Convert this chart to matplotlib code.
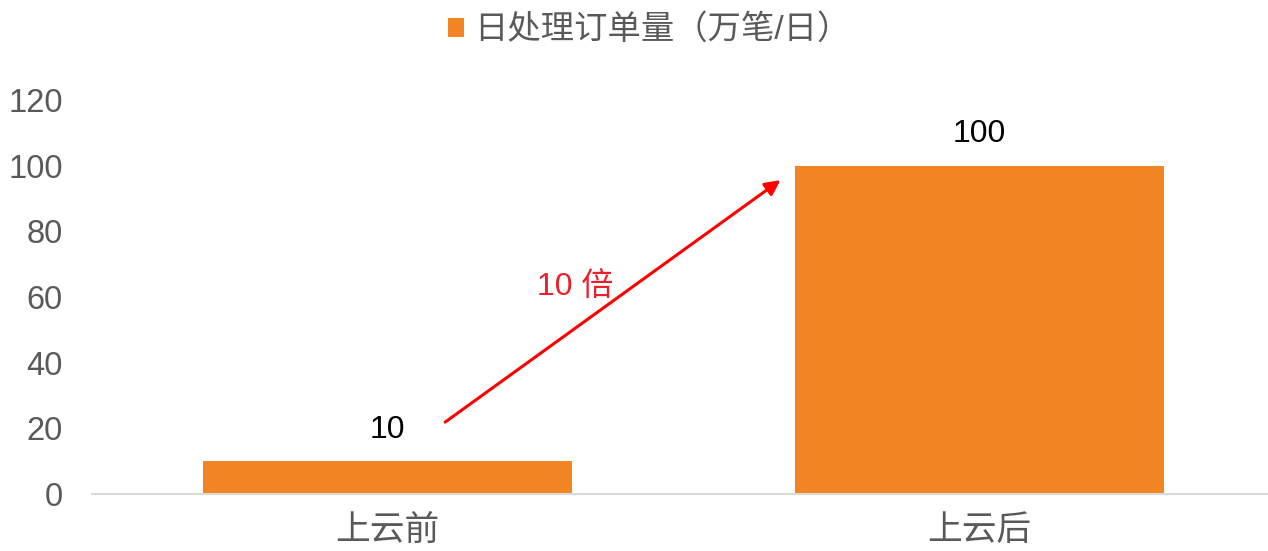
import matplotlib.pyplot as plt
from matplotlib.patches import Patch

plt.rcParams['font.family'] = ['Liberation Sans', 'Noto Sans CJK SC', 'DejaVu Sans']

categories = ['上云前', '上云后']
orders = [10, 100]
series_name = '日处理订单量（万笔/日）'
multiple_label = '10 倍'

BAR_COLOR = '#F28423'
GRAY = '#595959'

fig = plt.figure(figsize=(12.68, 5.51), dpi=100)
ax = fig.add_axes([0.0726, 0.1034, 0.9328, 0.7151])

x = list(range(len(categories)))
bars = ax.bar(x, orders, width=0.624, color=BAR_COLOR, zorder=2)

for xi, v in zip(x, orders):
    ax.text(xi, v + 5, str(v), ha='center', va='bottom', fontsize=23, color='black')

ax.set_xlim(-0.5, 1.5)
ax.set_ylim(0, 120)
ax.set_yticks(range(0, 121, 20))
ax.set_xticks(x)
ax.set_xticklabels(categories, fontsize=25, color=GRAY)
ax.tick_params(axis='y', labelsize=23.5, labelcolor=GRAY, length=0, pad=21)
ax.tick_params(axis='x', length=0, pad=14)

for s in ['top', 'right', 'left']:
    ax.spines[s].set_visible(False)
ax.spines['bottom'].set_color('#D9D9D9')
ax.spines['bottom'].set_linewidth(1.5)

# growth arrow between the bars
ax.annotate('', xy=(0.664, 95.6), xytext=(0.097, 21.9),
            arrowprops=dict(arrowstyle='-|>,head_length=0.9,head_width=0.45',
                            color='#FF0000', lw=2.2, shrinkA=0, shrinkB=0))
ax.text(0.317, 62.7, multiple_label, ha='center', va='center', fontsize=23, color='#E8202A')

handle = Patch(facecolor=BAR_COLOR, edgecolor='none')
fig.legend([handle], [series_name], loc='center', bbox_to_anchor=(0.512, 0.945),
           frameon=False, fontsize=24, handlelength=0.5, handleheight=0.5,
           handletextpad=0.3, labelcolor=GRAY)

fig.savefig('out.png', dpi=100)
